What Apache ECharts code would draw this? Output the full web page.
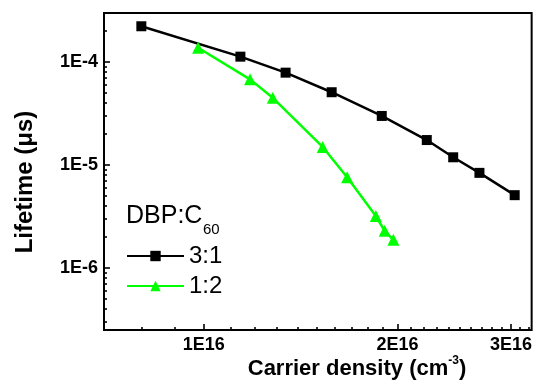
<!DOCTYPE html>
<html><head><meta charset="utf-8">
<script src="https://cdn.jsdelivr.net/npm/echarts@6/dist/echarts.min.js"></script>
<style>html,body{margin:0;padding:0;background:#fff}#c{width:535px;height:386px}</style>
</head><body><div id="c"></div>
<script>
// ---- data ----
const seriesNames = ['3:1', '1:2'];
const density31 = [8.0e15, 1.14e16, 1.34e16, 1.58e16, 1.89e16, 2.22e16, 2.44e16, 2.68e16, 3.04e16];
const lifetime31 = [2.23e-4, 1.13e-4, 7.9e-5, 5.1e-5, 3.0e-5, 1.75e-5, 1.19e-5, 8.4e-6, 5.1e-6];
const density12 = [9.8e15, 1.18e16, 1.28e16, 1.53e16, 1.67e16, 1.85e16, 1.91e16, 1.97e16];
const lifetime12 = [1.38e-4, 6.8e-5, 4.5e-5, 1.5e-5, 7.6e-6, 3.2e-6, 2.3e-6, 1.88e-6];
const xTicks = [1e16, 2e16, 3e16];
const xTickLabels = ['1E16', '2E16', '3E16'];
const xMinorTicks = [7e15, 8e15, 9e15, 1.1e16, 1.2e16, 1.3e16, 1.4e16, 1.5e16, 1.6e16, 1.7e16, 1.8e16, 1.9e16,
  2.1e16, 2.2e16, 2.3e16, 2.4e16, 2.5e16, 2.6e16, 2.7e16, 2.8e16, 2.9e16, 3.1e16, 3.2e16];
const yTicks = [1e-6, 1e-5, 1e-4];
const yTickLabels = ['1E-6', '1E-5', '1E-4'];
const yMinorTicks = [3e-7, 4e-7, 5e-7, 6e-7, 7e-7, 8e-7, 9e-7, 2e-6, 3e-6, 4e-6, 5e-6, 6e-6, 7e-6, 8e-6, 9e-6,
  2e-5, 3e-5, 4e-5, 5e-5, 6e-5, 7e-5, 8e-5, 9e-5, 2e-4, 3e-4];
const xRange = [7.0e15, 3.23e16];
const yRange = [2.5e-7, 3.0e-4];

function labelFor(ticks, labels) {
  return function (v) {
    let best = 0, bd = Infinity;
    for (let i = 0; i < ticks.length; i++) {
      const d = Math.abs(Math.log10(ticks[i]) - (v > 1e-30 && v < 1e-2 || v > 1e3 ? Math.log10(v) : v));
      if (d < bd) { bd = d; best = i; }
    }
    return labels[best];
  };
}

const chart = echarts.init(document.getElementById('c'), null, { renderer: 'canvas' });
const tickFont = { fontFamily: 'Arial, Liberation Sans', fontWeight: 'bold', fontSize: 18, color: '#000' };
const hiddenLabel = { show: false };

const option = {
  animation: false,
  backgroundColor: '#fff',
  grid: { left: 104, top: 13, right: 3, bottom: 56, show: true, borderColor: '#000', borderWidth: 2, backgroundColor: 'transparent' },
  xAxis: [
    { type: 'log', logBase: 10, min: xRange[0], max: xRange[1], position: 'bottom',
      axisLine: { show: false }, splitLine: { show: false },
      axisTick: { show: true, inside: true, length: 6, customValues: xTicks, lineStyle: { color: '#000', width: 1.6 } },
      axisLabel: Object.assign({ customValues: xTicks, margin: 6, formatter: labelFor(xTicks, xTickLabels) }, tickFont) },
    { type: 'log', logBase: 10, min: xRange[0], max: xRange[1], position: 'bottom',
      axisLine: { show: false }, splitLine: { show: false }, axisLabel: hiddenLabel,
      axisTick: { show: true, inside: true, length: 3, customValues: xMinorTicks, lineStyle: { color: '#000', width: 1.6 } } }
  ],
  yAxis: [
    { type: 'log', logBase: 10, min: yRange[0], max: yRange[1], position: 'left',
      axisLine: { show: false }, splitLine: { show: false },
      axisTick: { show: true, inside: true, length: 6, customValues: yTicks, lineStyle: { color: '#000', width: 1.6 } },
      axisLabel: Object.assign({ customValues: yTicks, margin: 6, formatter: labelFor(yTicks, yTickLabels) }, tickFont) },
    { type: 'log', logBase: 10, min: yRange[0], max: yRange[1], position: 'left',
      axisLine: { show: false }, splitLine: { show: false }, axisLabel: hiddenLabel,
      axisTick: { show: true, inside: true, length: 3, customValues: yMinorTicks, lineStyle: { color: '#000', width: 1.6 } } }
  ],
  legend: {
    orient: 'vertical', left: 126, top: 244, padding: 0, itemGap: 6,
    itemWidth: 57, itemHeight: 13,
    data: seriesNames,
    textStyle: { fontFamily: 'Arial, Liberation Sans', fontSize: 24, color: '#000' }
  },
  series: [
    { name: seriesNames[0], type: 'line', xAxisIndex: 0, yAxisIndex: 0,
      data: density31.map((x, i) => [x, lifetime31[i]]),
      symbol: 'rect', symbolSize: 10, color: '#000',
      lineStyle: { color: '#000', width: 2.5 }, itemStyle: { color: '#000' } },
    { name: seriesNames[1], type: 'line', xAxisIndex: 0, yAxisIndex: 0,
      data: density12.map((x, i) => [x, lifetime12[i]]),
      symbol: 'triangle', symbolSize: 12, color: '#00ff00',
      lineStyle: { color: '#00ff00', width: 2.5 }, itemStyle: { color: '#00ff00' } }
  ],
  graphic: [
    { type: 'text', x: 126, y: 216, style: { text: 'DBP:C', font: '25px Arial, "Liberation Sans"', fill: '#000', align: 'left', verticalAlign: 'middle' } },
    { type: 'text', x: 203, y: 230, style: { text: '60', font: '15px Arial, "Liberation Sans"', fill: '#000', align: 'left', verticalAlign: 'middle' } },
    { type: 'text', x: 357, y: 367, style: {
        text: '{a|Carrier density (cm}{s|-3}{a|)}', align: 'center', verticalAlign: 'middle',
        rich: { a: { fontFamily: 'Arial, Liberation Sans', fontWeight: 'bold', fontSize: 22, lineHeight: 25, fill: '#000', verticalAlign: 'bottom' },
                s: { fontFamily: 'Arial, Liberation Sans', fontWeight: 'bold', fontSize: 12, lineHeight: 25, fill: '#000', verticalAlign: 'top' } } } },
    { type: 'text', x: 25, y: 182, rotation: Math.PI / 2, style: {
        text: 'Lifetime (μs)', font: 'bold 24px Arial, "Liberation Sans"', fill: '#000', align: 'center', verticalAlign: 'middle' } }
  ]
};
chart.setOption(option);
</script>
</body></html>
